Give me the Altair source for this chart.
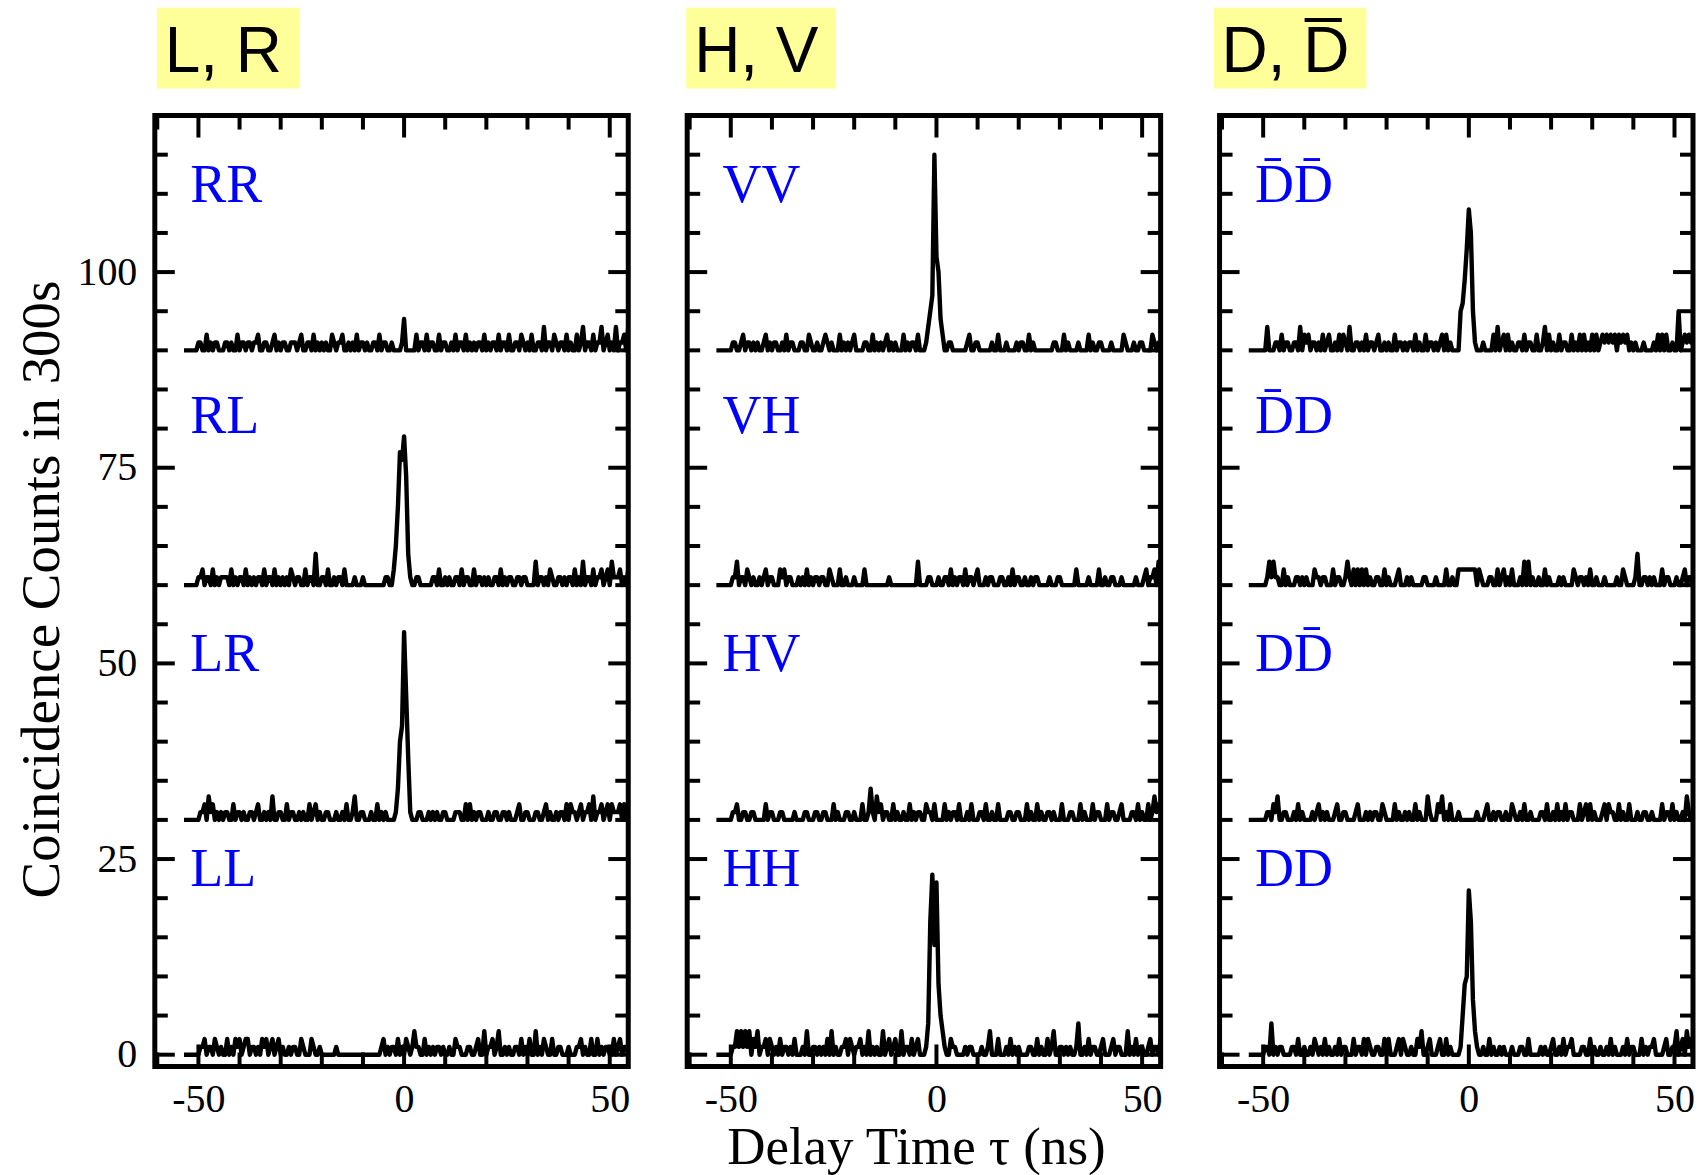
import altair as alt
import pandas as pd

# ---- histogram binning -------------------------------------------------
T0 = -53.5          # delay of the first bin (ns)
STEP = 0.5          # bin width (ns)

# bins around zero delay that carry the coincidence peak
PEAK_T = [-2.5, -2.0, -1.5, -1.0, -0.5, 0.0, 0.5, 1.0, 1.5, 2.0, 2.5]

PANEL_TITLES = ["L, R", "H, V", "D, D\u0305"]
TRACE_NAMES = [
    ["RR", "RL", "LR", "LL"],
    ["VV", "VH", "HV", "HH"],
    ["D\u0304D\u0304", "D\u0304D", "DD\u0304", "DD"],
]
OFFSETS = [90, 60, 30, 0]          # vertical shift of each trace
LABEL_T = -52
LABEL_Y = [109, 79.5, 49, 21.5]

Y_MAJOR = [0, 25, 50, 75, 100]
Y_MINOR = [v for v in range(0, 120, 5) if v not in Y_MAJOR]
X_MAJOR = [-50, 0, 50]
X_MINOR = [v for v in range(-60, 60, 10) if v not in X_MAJOR]

# accidental (background) counts per bin, one digit per 0.5 ns bin
NOISE = {
    "RR": "0000000110 0201011000 1101002011 0110112001 1001201011 0011101200 1102010101 0021011200 1010201101 0011020110 "
          "0100000000 0102011020 1100201100 1020110201 0101102010 1102011020 0110210102 0011030110 2101102010 0201301102 "
          "0113012010 30112031",
    "RL": "0000000112 0110201011 1102010110 2010101102 0110201010 1021011002 0110400110 2001011020 0001000100 0000000011 "
          "0000000000 0021100000 0110200101 0011020110 0201101010 0110201011 0011011000 0301101021 0011010110 2010301102 "
          "0112012031 11201024",
    "LR": "0000000011 2031201010 1100201101 0011012001 0103001100 2011001010 0201201001 1000100102 0013001100 0100201010 "
          "0000000000 0000110001 0101001100 0011100202 0101100010 0110011010 0012001100 0110012010 0101102021 1012011203 "
          "0112012021 11202011",
    "LL": "0000000011 2011021010 0201021201 2201101021 2012012010 0101100210 0021001000 0000100000 0000000000 0000001201 "
          "0110201021 0131100201 0101101001 0021100011 0012003011 2013001010 0110201020 0301021002 0011000100 0112010020 "
          "0201011002 01201100",
    "VV": "0000000011 0012011010 1001201011 0010201100 0110021001 0012101000 2010101200 0011002010 1012010100 0201011020 "
          "0000000000 0021100000 0012001100 0000100200 0100001011 0020100000 0000110002 0100001000 0201001100 0010000021 "
          "0001001100 00210100",
    "VH": "0000000011 3011021010 0101201100 0212011000 1010201011 0110021000 2001000100 0020000000 0000100000 0000000030 "
          "0001100010 0110201011 0201101200 0101100011 0010201100 1001011000 0010001100 0000020000 0100002001 0011000100 "
          "0000100012 01120312",
    "HV": "0000000011 2001100110 0000201100 0110000010 0001100011 0011000201 0001100100 0200141031 2011002010 0100201011 "
          "0021102000 0201011020 0010200011 0200100200 0011001100 0201002010 0110100020 0011000201 0002011000 2011001200 "
          "0011020100 20131213",
    "HH": "0000000011 3131313021 3011202101 0201101020 0010300110 1010203010 0112021011 2010301010 0301201200 3011020120 "
          "0000000000 0000211000 0101100001 0013000200 0102010100 0011002010 0201300110 1010014001 0201100120 0012011000 "
          "3010201100 12011020",
    "D\u0304D\u0304": "0000000003 0001102011 0011030212 0110102012 0010202103 0011010201 1012001010 0201101011 0201002011 0101202010 "
          "0000000000 0000100002 0301202010 0110201100 2001302010 0201100201 0202010202 0121212120 2121201010 0010000102 "
          "0202001005 01212121",
    "D\u0304D": "0000000001 3131100201 0001101010 0021101100 0201100131 0202020201 0011002010 0012000101 0000011000 0100002001 "
          "0022222222 2021000110 0201201020 0010303010 0100201000 0101000021 0110102001 0001000001 0021000014 0011010100 "
          "0201100010 01201100",
    "DD\u0304": "0000000001 1021300110 0010201000 0101201010 0012001100 0012000101 0110021000 0201001010 0201000310 0021301020 "
          "0010000000 0100012001 0110010021 0010200100 0011020010 2010201100 0201202010 0012021100 2010020001 0011001000 "
          "0201102010 01031001",
    "DD": "0000000011 0401011000 0110200100 1021010201 0010201100 0201102021 0011002020 0012021001 0021300120 0012002010 "
          "0000000000 0000100201 0010100010 0011002000 0010100120 0102011200 0011002010 0100102010 0010201100 0201011200 "
          "0012001130 12031201",
}

# counts in the bins of PEAK_T
PEAKS = {
    "RR": [0, 0, 0, 0, 1, 4, 0, 0, 0, 0, 0],
    "RL": [2, 5, 10, 17, 16, 19, 14, 4, 1, 0, 0],
    "LR": [0, 1, 4, 10, 12, 24, 16, 8, 1, 0, 0],
    "VV": [1, 3, 5, 7, 25, 12, 10, 4, 2, 0, 0],
    "HH": [1, 4, 17, 23, 14, 22, 9, 5, 3, 1, 0],
    "D\u0304D\u0304": [0, 5, 6, 9, 13, 18, 15, 5, 1, 0, 0],
    "DD": [0, 1, 5, 9, 10, 21, 17, 7, 3, 1, 0],
}

W, H = 474, 952
SERIF = "Liberation Serif"
SANS = "Liberation Sans"

# yellow header boxes: left edge relative to the panel, and width
BOX_X0 = [2, -1, -6]
BOX_W = [143, 150, 153]


def trace_frame(name, offset):
    counts = [int(c) for c in "".join(NOISE[name].split())]
    if name in PEAKS:
        for pt, val in zip(PEAK_T, PEAKS[name]):
            counts[round((pt - T0) / STEP)] = val
    return pd.DataFrame({
        "t": [T0 + i * STEP for i in range(len(counts))],
        "y": [c + offset for c in counts],
        "trace": name,
    })


xscale = alt.Scale(domain=[-60.6, 54.5], nice=False, zero=False)
yscale = alt.Scale(domain=[-1.5, 120], nice=False, zero=False)


def axes_for(i):
    x_axis = alt.Axis(values=X_MAJOR, ticks=False, domain=False, grid=False,
                      labelFont=SERIF, labelFontSize=40, labelColor="black",
                      labelPadding=13, labelExpr="'' + datum.value",
                      title="Delay Time \u03c4 (ns)" if i == 1 else "",
                      titleFont=SERIF, titleFontSize=53, titleFontWeight="normal",
                      titleColor="black", titleX=229, titleY=97,
                      titleBaseline="alphabetic", titleAlign="center")
    if i == 0:
        y_axis = alt.Axis(values=Y_MAJOR, ticks=False, domain=False, grid=False,
                          labelFont=SERIF, labelFontSize=40, labelColor="black",
                          labelPadding=18,
                          title="Coincidence Counts in 300s",
                          titleFont=SERIF, titleFontSize=55,
                          titleFontWeight="normal", titleColor="black",
                          titleAngle=270, titleX=-96, titleY=474,
                          titleBaseline="alphabetic", titleAlign="center")
    else:
        y_axis = None
    return x_axis, y_axis


def tick_layers(x_axis, y_axis):
    layers = []
    for vals, length in ((Y_MAJOR, 20), (Y_MINOR, 13)):
        d = pd.DataFrame({"y": vals})
        for x0, x1 in ((0, length), (W - length, W)):
            layers.append(
                alt.Chart(d).mark_rule(color="black", strokeWidth=4).encode(
                    y=alt.Y("y:Q", scale=yscale, axis=y_axis),
                    x=alt.value(x0), x2=alt.value(x1)))
    for vals, length in ((X_MAJOR, 22), (X_MINOR, 14)):
        d = pd.DataFrame({"t": vals})
        for y0, y1 in ((H, H - length), (0, length)):
            layers.append(
                alt.Chart(d).mark_rule(color="black", strokeWidth=4).encode(
                    x=alt.X("t:Q", scale=xscale, axis=x_axis),
                    y=alt.value(y0), y2=alt.value(y1)))
    return layers


def panel(i):
    names = TRACE_NAMES[i]
    df = pd.concat([trace_frame(n, o) for n, o in zip(names, OFFSETS)],
                   ignore_index=True)
    x_axis, y_axis = axes_for(i)

    lines = alt.Chart(df).mark_line(
        color="black", strokeWidth=4.4, clip=True, strokeJoin="round"
    ).encode(
        x=alt.X("t:Q", scale=xscale, axis=x_axis),
        y=alt.Y("y:Q", scale=yscale, axis=y_axis),
        detail="trace:N",
    )

    lab = pd.DataFrame({"t": [LABEL_T] * 4, "y": LABEL_Y, "label": names})
    labels = alt.Chart(lab).mark_text(
        align="left", baseline="alphabetic", font=SERIF, fontSize=54,
        color="#0000ff"
    ).encode(
        x=alt.X("t:Q", scale=xscale, axis=x_axis),
        y=alt.Y("y:Q", scale=yscale, axis=y_axis),
        text="label:N",
    )

    head = pd.DataFrame({"title": [PANEL_TITLES[i]]})
    x0 = BOX_X0[i]
    box = alt.Chart(head).mark_rect(color="#ffff99").encode(
        x=alt.value(x0), x2=alt.value(x0 + BOX_W[i]),
        y=alt.value(-108), y2=alt.value(-27))
    head_text = alt.Chart(head).mark_text(
        align="left", baseline="alphabetic", font=SANS, fontSize=64,
        color="black"
    ).encode(x=alt.value(x0 + 8), y=alt.value(-44), text="title:N")

    return alt.layer(box, head_text, *tick_layers(x_axis, y_axis), lines,
                     labels).properties(width=W, height=H)


chart = alt.hconcat(panel(0), panel(1), panel(2), spacing=59, bounds="flush")
chart = chart.configure_view(stroke="black", strokeWidth=5).properties(
    padding={"left": 12, "top": 4, "right": 0, "bottom": -2},
    background="white",
)

chart.save("out.html", embed_options={"renderer": "svg", "actions": False})
